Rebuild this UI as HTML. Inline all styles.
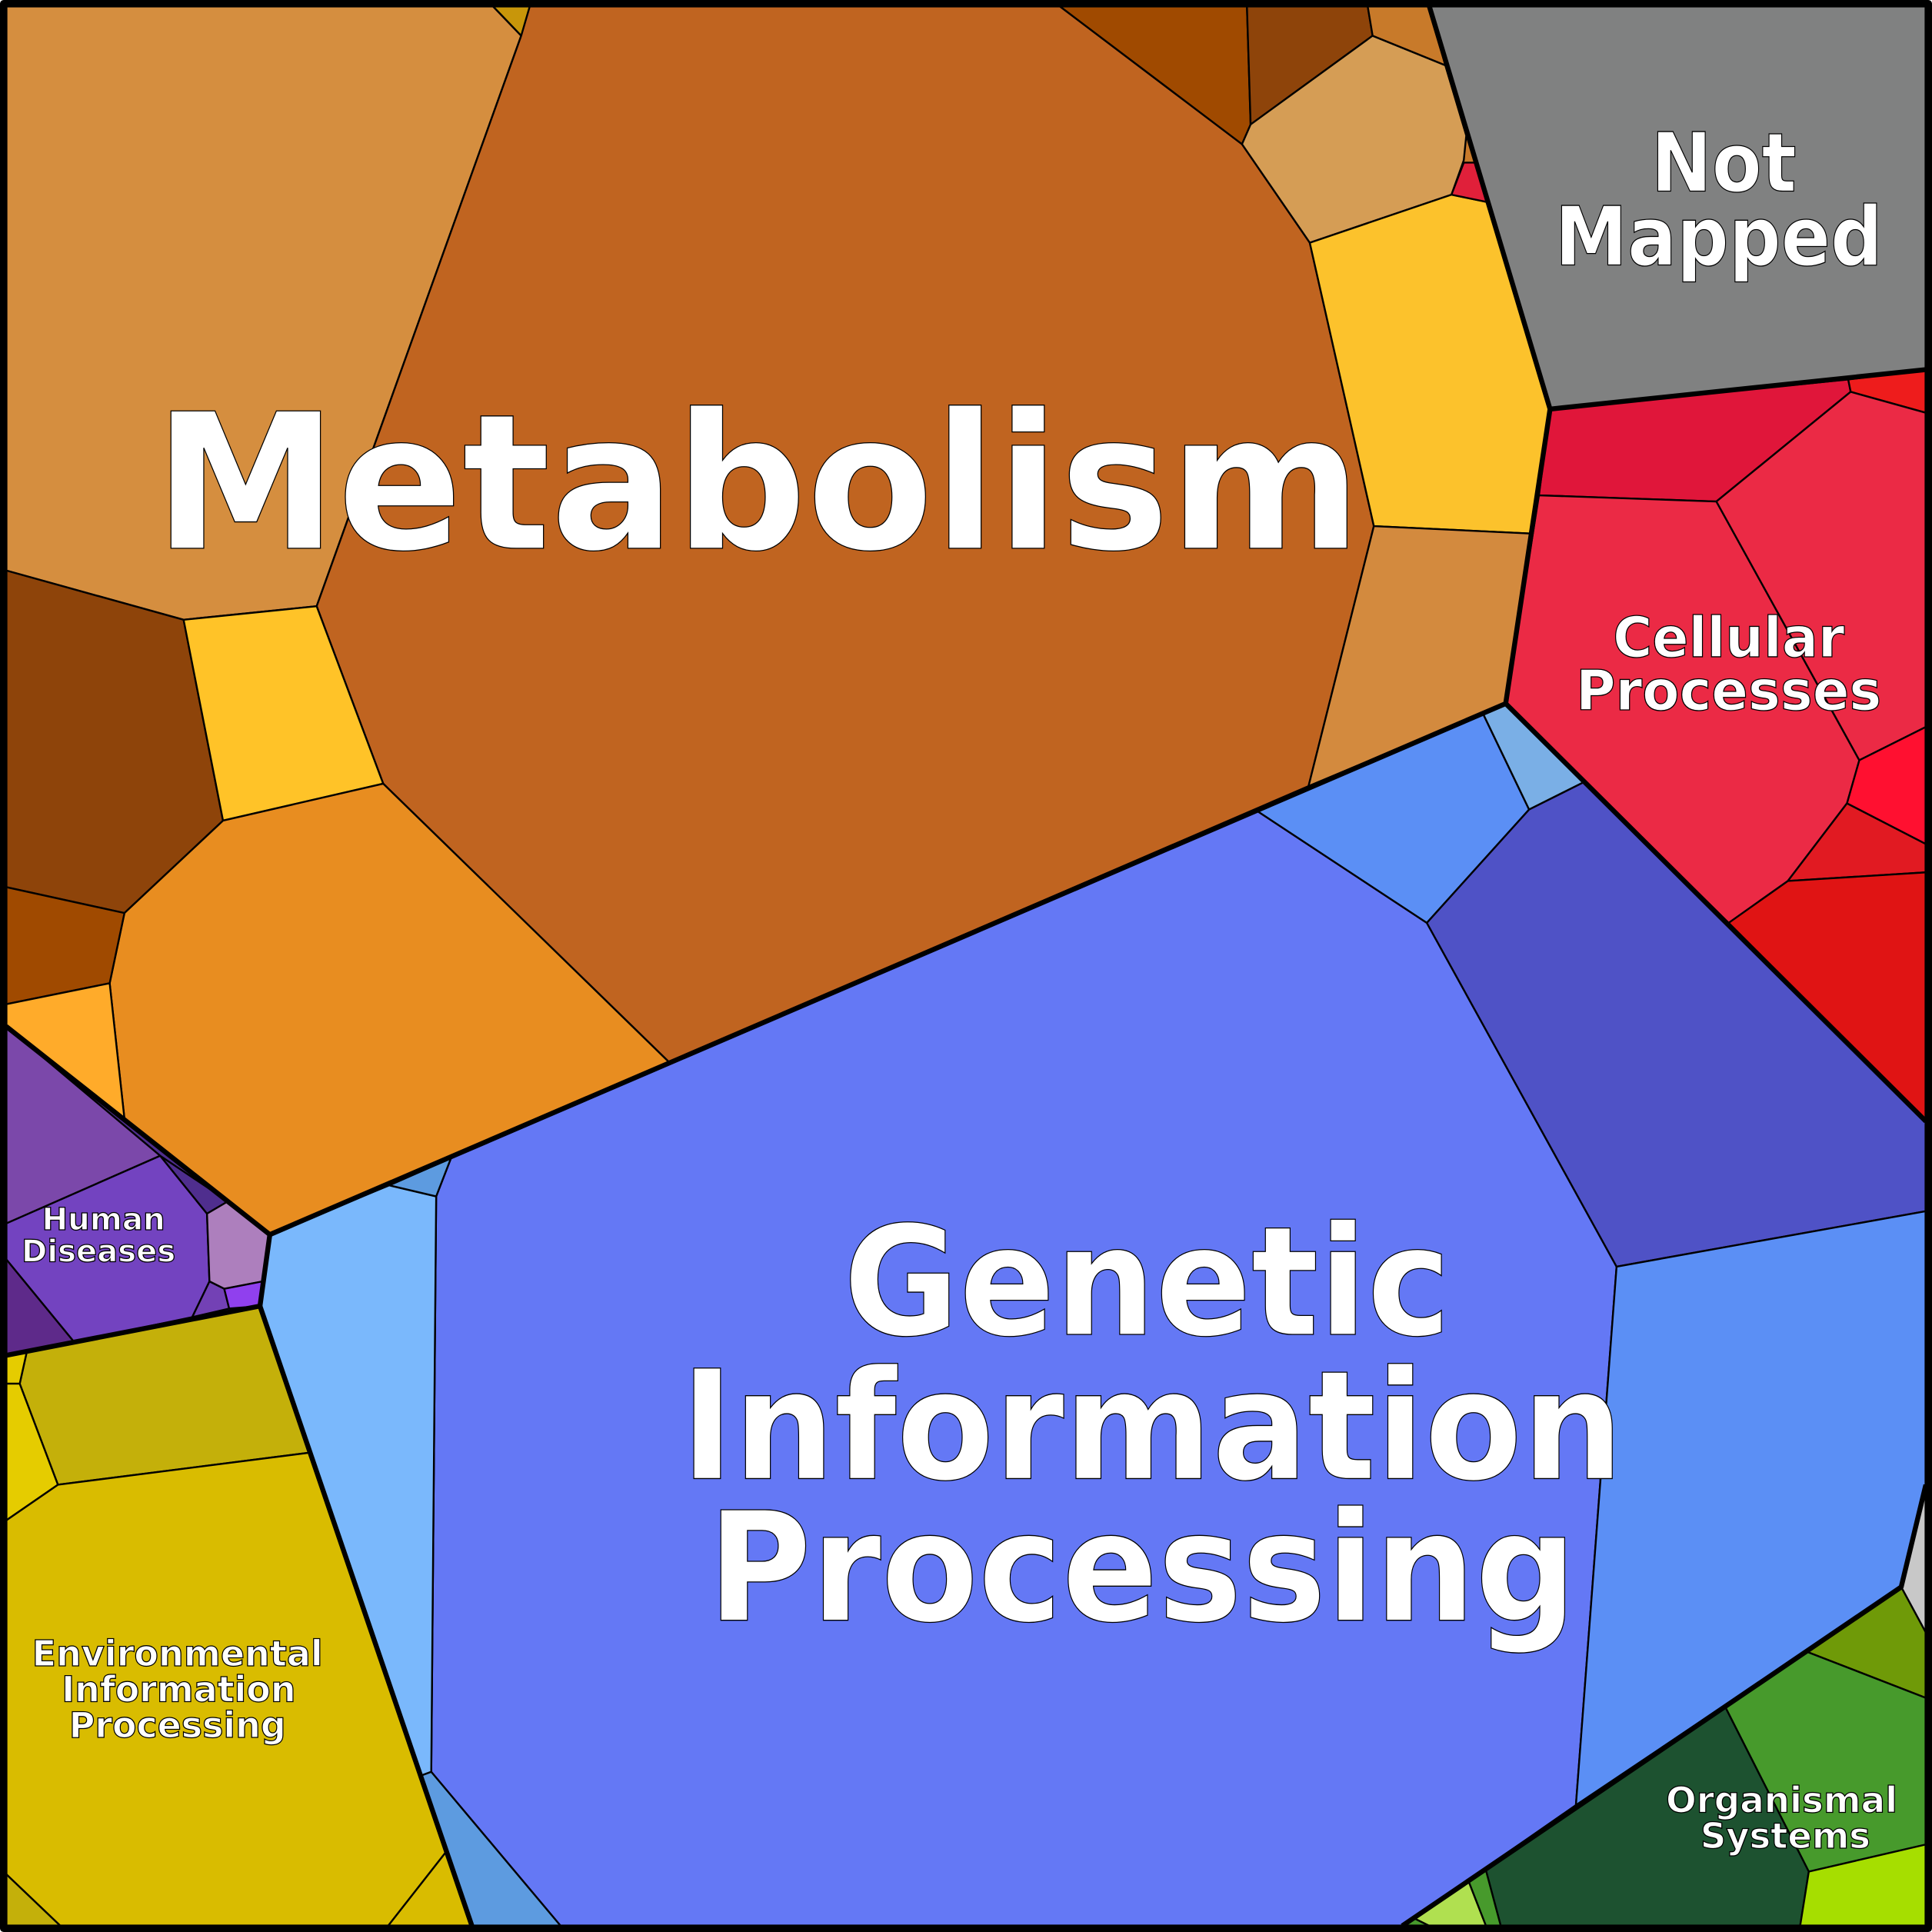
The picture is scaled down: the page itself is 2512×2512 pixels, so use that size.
<!DOCTYPE html>
<html><head><meta charset="utf-8"><style>html,body{margin:0;padding:0;background:#fff}svg{display:block}</style></head>
<body>
<svg xmlns="http://www.w3.org/2000/svg" width="2512" height="2512" viewBox="0 0 1568 1568">
<!-- base region fills -->
<g stroke="none">
<polygon fill="#c87a2a" points="5,5 1160,5 1258,332 1222,571 219,1002 5,833"/>
<polygon fill="#4f2e8e" points="5,833 219,1002 211,1060 5,1100"/>
<polygon fill="#d9bc00" points="5,1100 211,1060 383,1563 5,1563"/>
<polygon fill="#479a2c" points="1138,1563 1543,1288 1563,1205 1563,1563"/>
<polygon fill="#6478f5" points="219,1002 1222,571 1563,910 1563,1205 1543,1288 1138,1563 383,1563 211,1060"/>
</g>
<g stroke="#000" stroke-width="1.5" stroke-linejoin="round">
<polygon fill="#d58e3f" points="5,5 400,5 423,29 257,492 149,503 5,463"/>
<polygon fill="#c8960a" points="400,5 445,5 423,29"/>
<polygon fill="#c06420" points="430,5 860,5 1008,117 1063,197 1115,427 1062,638 543,862 311,636 257,492 423,29"/>
<polygon fill="#a04a00" points="860,5 1012,5 1015,101 1008,117"/>
<polygon fill="#8e440a" points="1012,5 1110,5 1114,29 1015,101"/>
<polygon fill="#d59d55" points="1114,29 1173,53 1190,110 1188,130 1178,158 1063,197 1008,117 1015,101"/>
<polygon fill="#c87a2a" points="1110,5 1160,5 1173,53 1114,29"/>
<polygon fill="#fcc22c" points="1063,197 1178,158 1207,164 1258,332 1242,433 1115,427"/>
<polygon fill="#e0203a" points="1178,158 1188,132 1200,132 1207,164"/>
<polygon fill="#d38a3e" points="1115,427 1242,433 1222,571 1062,638"/>
<polygon fill="#8e440a" points="5,463 149,503 181,666 101,741 5,720"/>
<polygon fill="#ffc328" points="149,503 257,492 311,636 181,666"/>
<polygon fill="#e88d20" points="181,666 311,636 543,862 219,1002 101,908 89,798 101,741"/>
<polygon fill="#a04a00" points="5,720 101,741 89,798 5,815"/>
<polygon fill="#ffab2a" points="5,815 89,798 101,908 5,833"/>
<polygon fill="#808181" points="1160,5 1563,5 1563,300 1258,332"/>
<polygon fill="#e0163a" points="1258,332 1500,308 1502,318 1393,407 1249,402"/>
<polygon fill="#ee1c1c" points="1500,308 1563,300 1563,335 1502,318"/>
<polygon fill="#eb2a45" points="1249,402 1393,407 1509,617 1499,652 1451,715 1403,749 1222,571"/>
<polygon fill="#eb2a45" points="1393,407 1502,318 1563,335 1563,590 1509,617"/>
<polygon fill="#ff1030" points="1509,617 1563,590 1563,685 1499,652"/>
<polygon fill="#e11a22" points="1499,652 1563,685 1563,708 1451,715"/>
<polygon fill="#e01414" points="1451,715 1563,708 1563,910 1403,749"/>
<polygon fill="#6478f5" points="366,940 1020,658 1158,749 1312,1028 1279,1465 1138,1563 455,1563 350,1438 354,971"/>
<polygon fill="#5b8ff5" points="1020,658 1204,580 1241,657 1158,749"/>
<polygon fill="#7aafe6" points="1204,580 1222,571 1285,635 1241,657"/>
<polygon fill="#4f52c6" points="1241,657 1285,635 1563,910 1563,983 1312,1028 1158,749"/>
<polygon fill="#5b8ff5" points="1312,1028 1563,983 1563,1205 1543,1288 1279,1465"/>
<polygon fill="#7ab8fc" points="219,1002 316,962 354,971 350,1438 342,1441 211,1060"/>
<polygon fill="#5d9be0" points="316,962 366,940 354,971"/>
<polygon fill="#5d9be0" points="342,1441 350,1438 455,1563 383,1563"/>
<polygon fill="#7b48aa" points="5,833 130,938 5,993"/>
<polygon fill="#7343c0" points="5,993 130,938 168,985 170,1040 156,1069 60,1089 5,1022"/>
<polygon fill="#5e2a8a" points="5,1022 60,1089 5,1100"/>
<polygon fill="#4f2e8e" points="130,938 185,975 168,985"/>
<polygon fill="#ad7fbd" points="168,985 185,975 219,1002 213,1040 182,1046 170,1040"/>
<polygon fill="#7341b5" points="170,1040 182,1046 186,1062 156,1069"/>
<polygon fill="#9040ee" points="182,1046 213,1040 211,1060 186,1062"/>
<polygon fill="#c4b00a" points="22,1096 211,1060 251,1179 47,1205 16,1123"/>
<polygon fill="#e5cc00" points="5,1100 22,1096 16,1123 5,1123"/>
<polygon fill="#e5cc00" points="5,1123 16,1123 47,1205 5,1234"/>
<polygon fill="#d9bc00" points="5,1234 47,1205 251,1179 362,1503 315,1563 49,1563 5,1521"/>
<polygon fill="#c4b00a" points="5,1521 49,1563 5,1563"/>
<polygon fill="#d9bc00" points="315,1563 362,1503 383,1563"/>
<polygon fill="#c8c8c8" points="1543,1288 1563,1205 1563,1325"/>
<polygon fill="#6f9a08" points="1543,1288 1563,1325 1563,1378 1465,1340"/>
<polygon fill="#479a2c" points="1400,1385 1465,1340 1563,1378 1563,1497 1468,1519"/>
<polygon fill="#1d5230" points="1138,1563 1400,1385 1468,1519 1461,1563 1218,1563 1206,1518"/>
<polygon fill="#a6de00" points="1468,1519 1563,1497 1563,1563 1461,1563"/>
<polygon fill="#b0e050" points="1148,1557 1192,1527 1206,1563 1160,1563"/>
<polygon fill="#479a2c" points="1192,1527 1206,1518 1218,1563 1206,1563"/>
</g>
<g fill="none" stroke="#000" stroke-width="4" stroke-linejoin="round">
<polyline points="1160,5 1258,332 1222,571 219,1002 5,833"/>
<polyline points="1258,332 1563,300"/>
<polyline points="1222,571 1563,910"/>
<polyline points="219,1002 211,1060 5,1100"/>
<polyline points="211,1060 383,1563"/>
<polyline points="1563,1205 1543,1288 1138,1563"/>
<rect x="3" y="3" width="1562" height="1562" stroke-width="6"/>
</g>
<g fill="#fff" stroke="#000" stroke-width="0.8" font-family="'DejaVu Sans','Liberation Sans',sans-serif" font-weight="bold" text-anchor="middle">
<text x="615" y="445" font-size="153" textLength="980" lengthAdjust="spacingAndGlyphs">Metabolism</text>
<text x="1399" y="155" font-size="66" textLength="118" lengthAdjust="spacingAndGlyphs">Not</text>
<text x="1395" y="215" font-size="66" textLength="266" lengthAdjust="spacingAndGlyphs">Mapped</text>
<text x="1403" y="533" font-size="45" textLength="188" lengthAdjust="spacingAndGlyphs">Cellular</text>
<text x="1403" y="576" font-size="45" textLength="248" lengthAdjust="spacingAndGlyphs">Processes</text>
<text x="931" y="1083" font-size="123" textLength="493" lengthAdjust="spacingAndGlyphs">Genetic</text>
<text x="935" y="1200" font-size="123" textLength="765" lengthAdjust="spacingAndGlyphs">Information</text>
<text x="927" y="1315" font-size="123" textLength="705" lengthAdjust="spacingAndGlyphs">Processing</text>
<text x="84" y="998" font-size="25" textLength="100" lengthAdjust="spacingAndGlyphs">Human</text>
<text x="80" y="1024" font-size="25" textLength="125" lengthAdjust="spacingAndGlyphs">Diseases</text>
<text x="144" y="1352" font-size="29" textLength="236" lengthAdjust="spacingAndGlyphs">Environmental</text>
<text x="145" y="1381" font-size="29" textLength="190" lengthAdjust="spacingAndGlyphs">Information</text>
<text x="144" y="1410" font-size="29" textLength="176" lengthAdjust="spacingAndGlyphs">Processing</text>
<text x="1446" y="1471" font-size="29" textLength="188" lengthAdjust="spacingAndGlyphs">Organismal</text>
<text x="1449" y="1500" font-size="29" textLength="138" lengthAdjust="spacingAndGlyphs">Systems</text>
</g>
</svg>
</body></html>
